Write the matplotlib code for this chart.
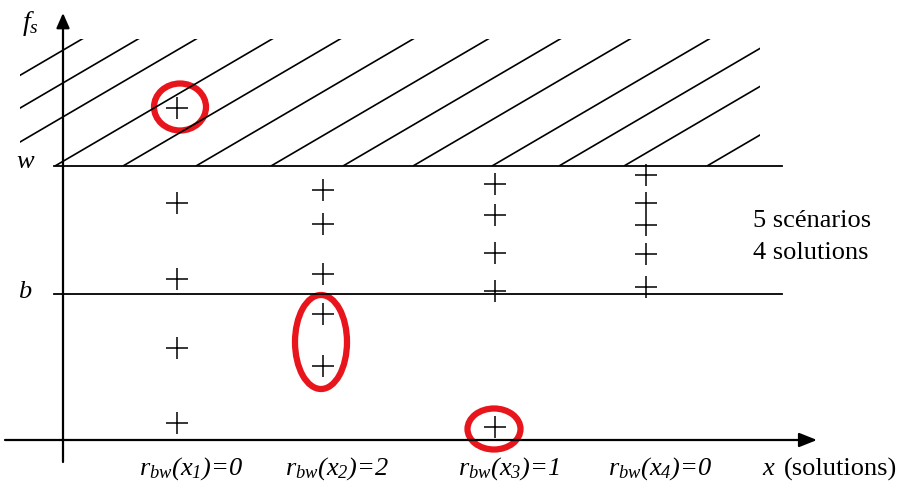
import numpy as np
import matplotlib
matplotlib.use('Agg')
import matplotlib.pyplot as plt
from matplotlib.patches import Ellipse, Rectangle

plt.rcParams['mathtext.fontset'] = 'custom'
plt.rcParams['mathtext.rm'] = 'Liberation Serif:italic'
plt.rcParams['mathtext.it'] = 'Liberation Serif:italic'

# positions des solutions sur l'axe x et valeurs f_s des 5 scenarios
sol_x = [114, 260, 432, 583]
fs_x1 = [332, 237, 161, 92, 17]
fs_x2 = [250, 216, 166, 126, 74]
fs_x3 = [256, 225, 187, 149, 13]
fs_x4 = [265, 237, 215, 186, 153]
scenarios = [fs_x1, fs_x2, fs_x3, fs_x4]

w_level = 274
b_level = 146

sol_labels = [r'$r_{bw}(x_1)$=0', r'$r_{bw}(x_2)$=2',
              r'$r_{bw}(x_3)$=1', r'$r_{bw}(x_4)$=0']

# points entoures : (centre x, centre y, largeur, hauteur)
circles = [(117, 333, 52, 47), (258, 98, 52, 94), (431, 11, 53, 41)]

# hachures : intersections avec la ligne w
hatch_x0 = [-198, -142, -84, -8, 60, 133, 208, 280, 350, 429, 496, 561, 644]
hatch_slope = 0.585

fig = plt.figure(figsize=(9.04, 4.9), dpi=100)
ax = fig.add_axes([0, 0, 1, 1])
ax.set_xlim(-63, 841)
ax.set_ylim(-50, 440)
ax.axis('off')

serif = 'Liberation Serif'

# zone hachuree au-dessus de w
clip = Rectangle((-43, w_level), 740, 127, transform=ax.transData,
                 facecolor='none', edgecolor='none')
ax.add_patch(clip)
for x0 in hatch_x0:
    xs = np.array([x0, x0 + 300])
    ys = w_level + hatch_slope * (xs - x0)
    ln, = ax.plot(xs, ys, color='black', lw=1.2, solid_capstyle='butt')
    ln.set_clip_path(clip)

# lignes w et b
ax.plot([-9, 719], [w_level, w_level], color='black', lw=1.3)
ax.plot([-9, 719], [b_level, b_level], color='black', lw=1.3)

# axes avec fleches
ax.annotate('', xy=(754, 0), xytext=(-58, 0),
            arrowprops=dict(arrowstyle='-|>,head_length=0.6,head_width=0.24',
                            mutation_scale=18, lw=1.6, color='black',
                            shrinkA=0, shrinkB=0))
ax.annotate('', xy=(0, 427), xytext=(0, -22),
            arrowprops=dict(arrowstyle='-|>,head_length=0.5,head_width=0.22',
                            mutation_scale=18, lw=1.6, color='black',
                            shrinkA=0, shrinkB=0))

# scenarios
for x, vals in zip(sol_x, scenarios):
    ax.plot([x] * len(vals), vals, linestyle='none', marker='+',
            markersize=16, markeredgewidth=1.1, color='black')

for cx, cy, cw, ch in circles:
    ax.add_patch(Ellipse((cx, cy), cw, ch, fill=False, edgecolor='#e8161c', lw=4.5))

# textes
ax.text(-33, 416, r'$f_s$', fontsize=20, ha='center', va='center')
ax.text(-38, w_level + 4, 'w', fontsize=19, family=serif, style='italic',
        ha='center', va='center')
ax.text(-38, b_level + 2, 'b', fontsize=19, family=serif, style='italic',
        ha='center', va='center')
ax.text(690, 219, '5 scénarios', fontsize=19, family=serif, ha='left', va='center')
ax.text(690, 187, '4 solutions', fontsize=19, family=serif, ha='left', va='center')

for x, lab in zip(sol_x, sol_labels):
    ax.text(x + 14, -29, lab, fontsize=19, family=serif, style='italic',
            ha='center', va='center')
ax.text(699, -29, 'x', fontsize=19, family=serif, style='italic', ha='left', va='center')
ax.text(721, -29, '(solutions)', fontsize=19, family=serif, ha='left', va='center')

fig.savefig('out.png', dpi=100)
